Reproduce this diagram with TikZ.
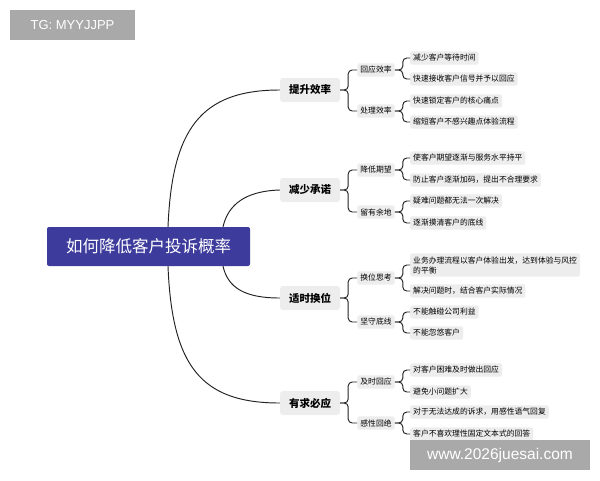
\documentclass[tikz,border=0pt]{standalone}
\usepackage{fontspec}
\setmainfont{Noto Sans CJK SC}
\setsansfont{Liberation Sans}
\definecolor{rootblue}{HTML}{3D3B9C}
\definecolor{boxgray}{HTML}{EDEDED}
\definecolor{markgray}{HTML}{A9A9A9}
\definecolor{inkline}{HTML}{222222}
\begin{document}
\begin{tikzpicture}[x=1pt,y=-1pt,
    root/.style={fill=rootblue,text=white,rounded corners=2pt,minimum width=203pt,minimum height=39pt,font=\fontsize{16.5}{18}\selectfont},
    topic/.style={fill=boxgray,rounded corners=3pt,minimum width=60pt,minimum height=24pt,font=\bfseries\fontsize{10.5}{12}\selectfont},
    sub/.style={fill=boxgray,rounded corners=2pt,inner sep=3pt,font=\fontsize{7.8}{10}\selectfont},
    leaf/.style={sub,anchor=west,align=left},
    link/.style={draw=inkline,line width=0.95pt,rounded corners=4pt},
    stamp/.style={fill=markgray,text=white,font=\sffamily}]
    \useasboundingbox (0,0) rectangle (600,480);
    \node[root] (root) at (148.5,246.5) {如何降低客户投诉概率};
    \foreach \y/\t [count=\i] in {90/提升效率,190/减少承诺,298/适时换位,403/有求必应}{
        \node[topic] (t\i) at (310,\y) {\t};
    }
    \foreach \y/\t [count=\i] in {70/回应效率,111/处理效率,170/降低期望,212/留有余地,278/换位思考,322/坚守底线,382/及时回应,423/感性回绝}{
        \node[sub] (s\i) at (376,\y) {\t};
    }
    \foreach \y/\t [count=\j] in {58/减少客户等待时间,79/快速接收客户信号并予以回应,101/快速锁定客户的核心痛点,122/缩短客户不感兴趣点体验流程,
        158/使客户期望逐渐与服务水平持平,180/防止客户逐渐加码，提出不合理要求,201/疑难问题都无法一次解决,223/逐渐摸清客户的底线,
        265/{业务办理流程以客户体验出发，达到体验与风控\\的平衡},291/解决问题时，结合客户实际情况,312/不能触碰公司利益,333/不能忽悠客户,
        370/对客户困难及时做出回应,392/避免小问题扩大,412/对于无法达成的诉求，用感性语气回复,434/客户不喜欢理性固定文本式的回答}{
        \node[leaf] (l\j) at (410,\y) {\t};
    }
    % root to topics
    \draw[link] ([xshift=19.5pt]root.north) .. controls (172,130) and (200,90) .. (t1.west);
    \draw[link] ([xshift=74.5pt]root.north) .. controls (228,205) and (245,191) .. (t2.west);
    \draw[link] ([xshift=74.5pt]root.south) .. controls (228,288) and (245,298) .. (t3.west);
    \draw[link] ([xshift=19.5pt]root.south) .. controls (172,365) and (200,403) .. (t4.west);
    % brackets
    \foreach \k in {1,...,8}{
        \pgfmathtruncatemacro\p{(\k+1)/2}
        \draw[link] (t\p.east) -- ++(8,0) |- (s\k.west);
    }
    \foreach \j in {1,...,16}{
        \pgfmathtruncatemacro\p{(\j+1)/2}
        \draw[link] (s\p.east) -- ++(8,0) |- (l\j.west);
    }
    \node[stamp,minimum width=125pt,minimum height=30pt,font=\sffamily\fontsize{13}{15}\selectfont] (tg) at (72.5,25) {TG: MYYJJPP};
    \node[stamp,minimum width=180pt,minimum height=30pt,font=\sffamily\fontsize{15.5}{18}\selectfont] (site) at (500,455) {www.2026juesai.com};
\end{tikzpicture}
\end{document}
